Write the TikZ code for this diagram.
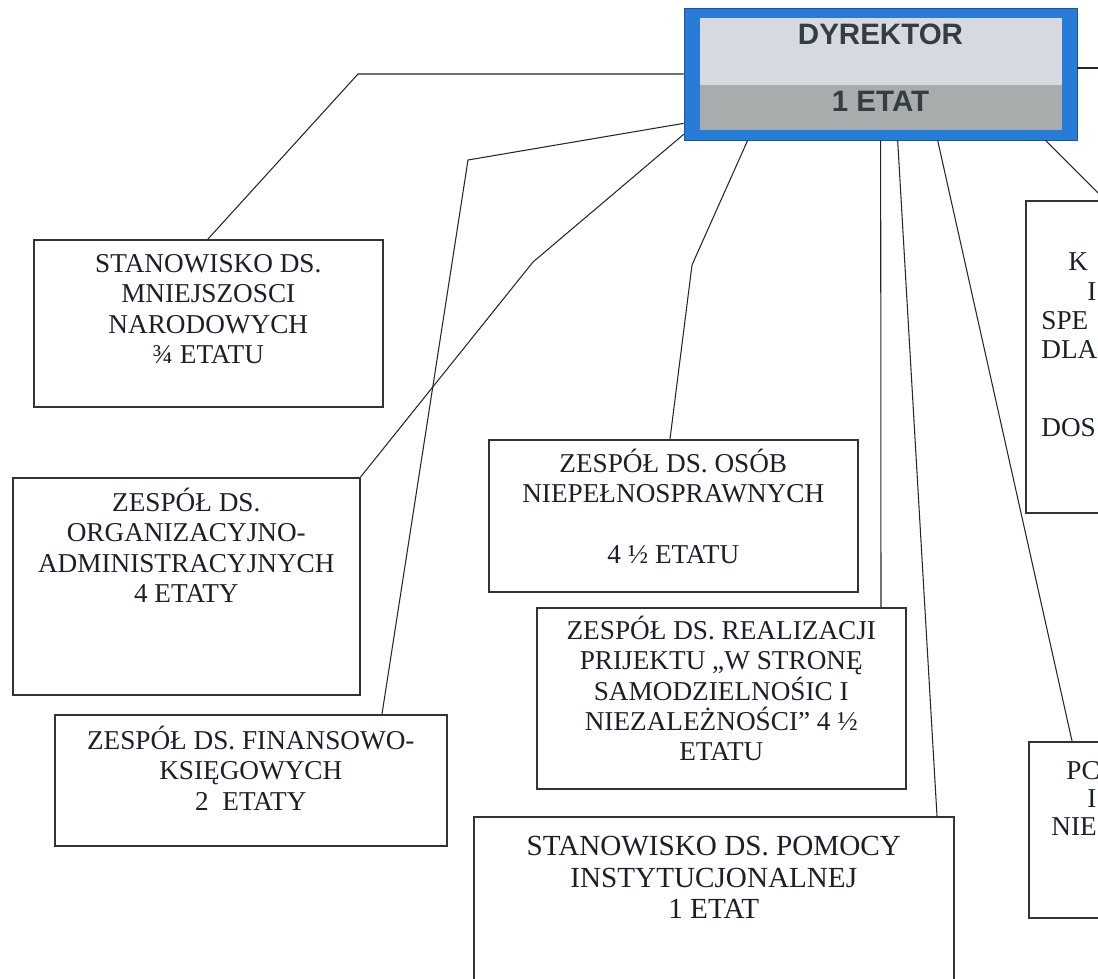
\documentclass[tikz,border=0pt]{standalone}
\usepackage{fontspec}
\setmainfont{Liberation Serif}
\newfontfamily\dyrfont{Liberation Sans}
\usetikzlibrary{calc}

\definecolor{dyrblue}{RGB}{38,124,214}
\definecolor{dyrtop}{RGB}{214,217,224}
\definecolor{dyrbot}{RGB}{168,172,172}
\definecolor{dyrink}{RGB}{52,62,66}
\definecolor{ink}{RGB}{28,30,42}

\def \pix {0.02cm}
\newcommand{\tp}{\rule{0pt}{1em}}

\tikzset{
  unit/.style={draw=black!80, line width=0.9pt, anchor=north west, inner sep=0pt},
  unittext/.style={anchor=north, align=center, inner sep=0pt, text=ink,
    font=\fontsize{15.5}{17.2}\selectfont},
  cuttext/.style={anchor=base west, inner sep=0pt, text=ink,
    font=\fontsize{15.5}{17.2}\selectfont},
  link/.style={draw=black!85, line width=0.6pt}
}

\begin{document}
\begin{tikzpicture}[x=\pix, y=-\pix]
      \useasboundingbox (0,0) rectangle (1098,979);
      \clip (0,0) rectangle (1098,979);
      %dyrektor
      \node[draw=dyrblue!70!black, fill=dyrblue, minimum width={393*\pix}, minimum height={132*\pix}, inner sep=0pt] (dyr) at (880.5,74) {};
      \fill[dyrtop] (700,18) rectangle (1062,85);
      \fill[dyrbot] (700,85) rectangle (1062,130);
      \node[font=\dyrfont\bfseries\fontsize{16.8}{18}\selectfont, text=dyrink, inner sep=0pt] (dyr1) at ($(dyr.north)+(0,27)$) {DYREKTOR};
      \node[font=\dyrfont\bfseries\fontsize{16.8}{18}\selectfont, text=dyrink, inner sep=0pt] (dyr2) at ($(dyr.north)+(0,94)$) {1 ETAT};
      %komorki
      \node[unit, minimum width={349*\pix}, minimum height={167*\pix}] (b1) at (33,239) {};
      \node[unit, minimum width={347*\pix}, minimum height={217*\pix}] (b2) at (12,477) {};
      \node[unit, minimum width={392*\pix}, minimum height={131*\pix}] (b3) at (54,714) {};
      \node[unit, minimum width={369*\pix}, minimum height={152*\pix}] (b4) at (488,439) {};
      \node[unit, minimum width={369*\pix}, minimum height={181*\pix}] (b5) at (536,607) {};
      \node[unit, minimum width={480*\pix}, minimum height={200*\pix}] (b6) at (473,816) {};
      \node[unit, minimum width={150*\pix}, minimum height={312*\pix}] (b7) at (1025,200) {};
      \node[unit, minimum width={150*\pix}, minimum height={176*\pix}] (b8) at (1028,741) {};
      %opisy
      \node[unittext] (t1) at ($(b1.north)+(0,6)$) {\tp STANOWISKO DS.\\MNIEJSZOSCI\\NARODOWYCH\\¾ ETATU};
      \node[unittext] (t2) at ($(b2.north)+(0,7)$) {\tp ZESPÓŁ DS.\\ORGANIZACYJNO-\\ADMINISTRACYJNYCH\\4 ETATY};
      \node[unittext] (t3) at ($(b3.north)+(0,8)$) {\tp ZESPÓŁ DS. FINANSOWO-\\KSIĘGOWYCH\\2\ \ ETATY};
      \node[unittext] (t4) at ($(b4.north)+(0,6)$) {\tp ZESPÓŁ DS. OSÓB\\NIEPEŁNOSPRAWNYCH\\[17.2pt]4 ½ ETATU};
      \node[unittext] (t5) at ($(b5.north)+(0,5)$) {\tp ZESPÓŁ DS. REALIZACJI\\PRIJEKTU „W STRONĘ\\SAMODZIELNOŚIC I\\NIEZALEŻNOŚCI” 4 ½\\ETATU};
      \node[unittext, font=\fontsize{16.6}{18}\selectfont] (t6) at ($(b6.north)+(0,10)$) {\tp STANOWISKO DS. POMOCY\\INSTYTUCJONALNEJ\\1 ETAT};
      %ucięte z prawej
      \node[cuttext] (t7a) at (1068,271) {K};
      \node[cuttext] (t7b) at (1087,301) {I};
      \node[cuttext] (t7c) at (1041,330) {SPE};
      \node[cuttext] (t7d) at (1041,359) {DLA};
      \node[cuttext] (t7e) at (1041,437) {DOS};
      \node[cuttext] (t8a) at (1066,779) {PC};
      \node[cuttext] (t8b) at (1087,807) {I};
      \node[cuttext] (t8c) at (1051,835) {NIE};
      %linie
      \coordinate (r1) at (1110,68);
      \draw[link] (dyr.west) -- (358,74) -- ($(b1.north west)+(175,0)$);
      \draw[link] ($(dyr.south west)+(0,-6)$) -- (533,262) -- (b2.north east);
      \draw[link] ($(dyr.south west)+(0,-17)$) -- (468,160) -- ($(b3.north west)+(328,0)$);
      \draw[link] ($(dyr.south west)+(64,0)$) -- (692,265) -- ($(b4.north west)+(182,0)$);
      \draw[link] ($(dyr.south west)+(197,0)$) -- ($(b5.north west)+(345,0)$);
      \draw[link] ($(dyr.south west)+(214,0)$) -- ($(b6.north west)+(464,0)$);
      \draw[link] ($(dyr.south west)+(254,0)$) -- ($(b8.north west)+(44,0)$);
      \draw[link] ($(dyr.south east)+(-32,0)$) -- ($(b7.north west)+(80,0)$);
      \draw[link] ($(dyr.east)+(0,-6)$) -- (r1);
    \end{tikzpicture}
\end{document}
